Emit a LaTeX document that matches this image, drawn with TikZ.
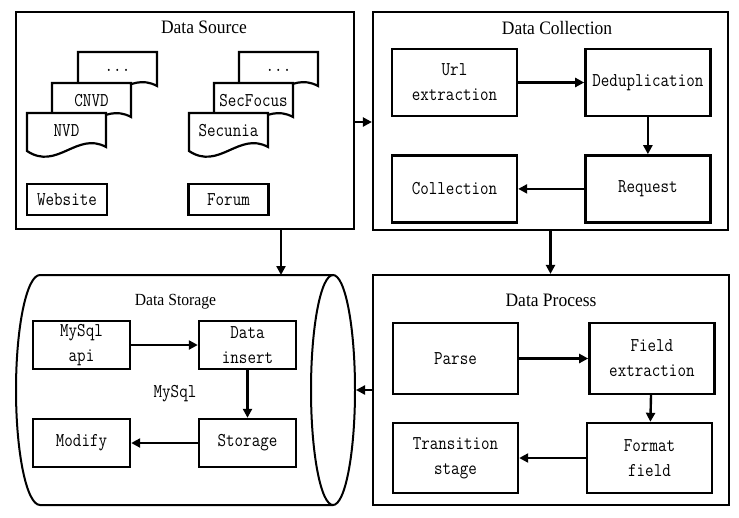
\documentclass[tikz,border=0pt]{standalone}
\usepackage{fontspec}
\newfontfamily\boxfont{Latin Modern Mono}[FakeStretch=0.85]
\newfontfamily\headfont[FakeStretch=0.92]{Liberation Serif}
\usetikzlibrary{arrows.meta, calc, positioning}

\begin{document}
\begin{tikzpicture}[
            x=1pt, y=-1pt,
            unit/.style={rectangle, draw=black, line width=2.2pt},
            stage/.style={rectangle, draw=black, line width=2.4pt,
            minimum width=125pt, minimum height=67pt, inner sep=1pt,
            font=\boxfont\fontsize{19.5}{25}\selectfont, align=center},
            small/.style={stage, minimum width=97pt, minimum height=48pt},
            tagbox/.style={stage, minimum width=80pt, minimum height=31pt},
            lbl/.style={font=\headfont\fontsize{19}{22}\selectfont, anchor=base, inner sep=0pt},
            doctxt/.style={font=\boxfont\fontsize{19.5}{20}\selectfont, inner sep=0pt},
            docshape/.style={draw=black, fill=white, line width=2.2pt, line join=miter},
            cyl/.style={draw=black, line width=2pt},
            arr/.style={draw, line width=2.4pt, -{Triangle[length=9pt, width=9pt]}}
        ]
            \useasboundingbox (0,0) rectangle (739,517);

% ----- Rahmen -----
            \node[unit, minimum width=338pt, minimum height=217pt] (src) at (185,120.5) {};
            \node[unit, minimum width=355pt, minimum height=218pt] (coll) at (550.5,121) {};
            \node[unit, minimum width=356pt, minimum height=230pt] (proc) at (551,390) {};

% Zylinder (Data Storage)
            \draw[cyl] (40,275) -- (333,275) (333,505) -- (40,505)
                arc[start angle=90, end angle=270, x radius=24, y radius=115];
            \draw[cyl] (333,390) ellipse[x radius=22, y radius=115];
            \coordinate (storetop) at (281,275);
            \coordinate (storeright) at (356,390);

% ----- Titel -----
            \node[lbl] (srct) at (204,33) {Data Source};
            \node[lbl] (collt) at (557,34) {Data Collection};
            \node[lbl] (proct) at (551,306.5) {Data Process};
            \node[lbl, font=\headfont\fontsize{17}{20}\selectfont] (storet) at (175.5,305.5) {Data Storage};
            \node[doctxt, anchor=base] (mysql) at (175,397) {MySql};

% ----- Dokumente -----
            \foreach \x/\y/\t/\n in {78/52/{...}/a1, 52/83/CNVD/a2, 27/113/NVD/a3,
                                     239/52/{...}/b1, 214/83/SecFocus/b2, 189/113/Secunia/b3} {
                \draw[docshape] (\x,\y) -- (\x+79,\y) -- (\x+79,\y+34)
                    .. controls (\x+50,\y+18) and (\x+30,\y+58) .. (\x,\y+38) -- cycle;
                \node[doctxt] (\n) at (\x+39.5,\y+18) {\t};
            }
            \node[tagbox] (web) at (67,199.5) {Website};
            \node[tagbox] (forum) at (228.5,199.5) {Forum};

% ----- Data Collection -----
            \node[stage] (url) at (454.5,82.5) {Url\\extraction};
            \node[stage, right=66pt of url] (dedup) {Deduplication};
            \node[stage, below=37pt of dedup] (req) {Request};
            \node[stage, below=37pt of url] (collect) {Collection};

% ----- Data Process -----
            \node[stage, minimum height=71pt] (parse) at (455.5,358.5) {Parse};
            \node[stage, minimum height=71pt, right=69pt of parse] (field) {Field\\extraction};
            \node[stage, minimum height=70pt] (format) at (649.5,458) {Format\\field};
            \node[stage, minimum height=70pt] (trans) at (455.5,458) {Transition\\stage};

% ----- Data Storage -----
            \node[small] (api) at (81.5,345) {MySql\\api};
            \node[small] (insert) at (247.5,345) {Data\\insert};
            \node[small] (sto) at (247.5,443) {Storage};
            \node[small] (modify) at (81.5,443) {Modify};

% ----- Kanten -----
            \draw[arr] (src.east |- 0,122) -- (coll.west |- 0,122);
            \draw[arr] (src.south -| storetop) -- (storetop);
            \draw[arr] (coll.south) -- (coll.south |- proc.north);
            \draw[arr] (proc.west) -- (storeright);

            \draw[arr] (url) -- (dedup);
            \draw[arr] (dedup) -- (req);
            \draw[arr] (req) -- (collect);

            \draw[arr] (parse) -- (field);
            \draw[arr] (field) -- (format);
            \draw[arr] (format) -- (trans);

            \draw[arr] (api) -- (insert);
            \draw[arr] (insert) -- (sto);
            \draw[arr] (sto) -- (modify);

        \end{tikzpicture}
\end{document}
